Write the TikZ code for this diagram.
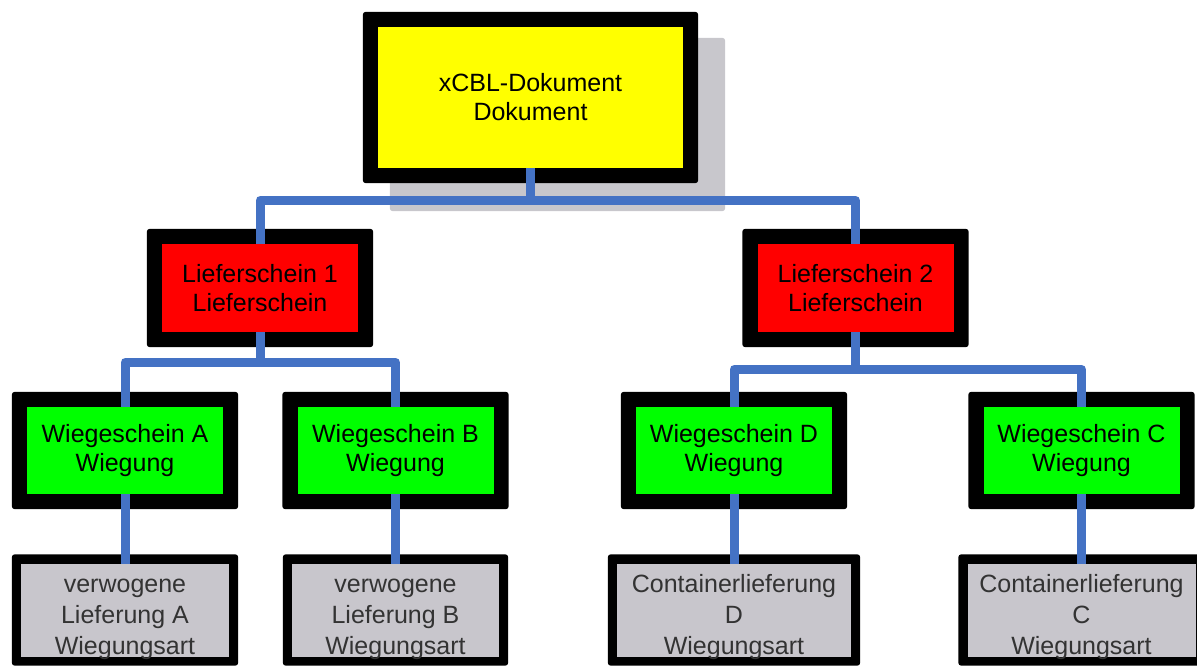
\documentclass[tikz,border=0pt]{standalone}
\usepackage{fontspec}
\setmainfont{Liberation Sans}
\usetikzlibrary{backgrounds,calc}
\definecolor{conblue}{RGB}{68,114,196}
\definecolor{shadowgray}{RGB}{200,199,204}
\definecolor{leafgray}{RGB}{200,198,204}
\definecolor{rootyellow}{RGB}{255,255,0}
\definecolor{lsred}{RGB}{255,0,0}
\definecolor{wgreen}{RGB}{0,255,0}
\newcommand\leaftext[1]{\raisebox{-7pt}[\height][\depth]{\begin{tabular}{@{}c@{}}#1\end{tabular}}}
\tikzset{
  box/.style={rectangle, inner sep=0pt, align=center, font=\fontsize{25}{29}\selectfont},
  rootbox/.style={box, fill=rootyellow, minimum width=305pt, minimum height=141pt},
  lsbox/.style={box, fill=lsred, minimum width=196pt, minimum height=88pt},
  wbox/.style={box, fill=wgreen, minimum width=196pt, minimum height=87pt},
  leaf/.style={rectangle, inner sep=0pt, fill=leafgray, text=black!80, minimum height=92pt, font=\fontsize{25}{31}\selectfont},
  frame/.style={fill=black, rounded corners=3pt},
  conn/.style={draw=conblue, line width=9pt, line join=round, line cap=round},
}
\begin{document}
\begin{tikzpicture}[x=1pt,y=-1pt]
\useasboundingbox (0,0) rectangle (1197,666);
\node[rootbox] (top) at (530.5,97.5) {xCBL-Dokument\\Dokument};
\node[lsbox] (l1) at (260,288) {Lieferschein 1\\Lieferschein};
\node[lsbox] (l2) at (855.5,288) {Lieferschein 2\\Lieferschein};
\node[wbox] (wa) at (125,450.5) {Wiegeschein A\\Wiegung};
\node[wbox] (wb) at (395.5,450.5) {Wiegeschein B\\Wiegung};
\node[wbox] (wd) at (734,450.5) {Wiegeschein D\\Wiegung};
\node[wbox] (wc) at (1081.5,450.5) {Wiegeschein C\\Wiegung};
\node[leaf, minimum width=208pt] (ba) at (125,610) {\leaftext{verwogene\\Lieferung A\\Wiegungsart}};
\node[leaf, minimum width=207pt] (bb) at (395.5,610) {\leaftext{verwogene\\Lieferung B\\Wiegungsart}};
\node[leaf, minimum width=234pt] (bd) at (734,610) {\leaftext{Containerlieferung\\D\\Wiegungsart}};
\node[leaf, minimum width=228pt] (bc) at (1081.5,610) {\leaftext{Containerlieferung\\C\\Wiegungsart}};
\begin{scope}[on background layer]
  \fill[shadowgray, rounded corners=3pt] ($(top.south west)+(12,43)$) rectangle ($(top.north east)+(42,11)$);
  \foreach \n in {top,l1,l2,wa,wb,wd,wc}
    \fill[frame] ($(\n.south west)+(-15,15)$) rectangle ($(\n.north east)+(15,-15)$);
  \foreach \n in {ba,bb,bd,bc}
    \fill[frame] ($(\n.south west)+(-9,9)$) rectangle ($(\n.north east)+(9,-9)$);
  \coordinate (j0) at ($(top.south)+(0,32)$);
  \coordinate (j1) at ($(l1.south)+(0,30)$);
  \coordinate (j2) at ($(l2.south)+(0,37)$);
  \draw[conn] (top.south) -- (j0);
  \draw[conn] (l1.north) |- (j0) -| (l2.north);
  \draw[conn] (l1.south) -- (j1);
  \draw[conn] (wa.north) |- (j1) -| (wb.north);
  \draw[conn] (l2.south) -- (j2);
  \draw[conn] (wd.north) |- (j2) -| (wc.north);
  \draw[conn] (wa.south) -- (ba.north);
  \draw[conn] (wb.south) -- (bb.north);
  \draw[conn] (wd.south) -- (bd.north);
  \draw[conn] (wc.south) -- (bc.north);
\end{scope}
\end{tikzpicture}
\end{document}
